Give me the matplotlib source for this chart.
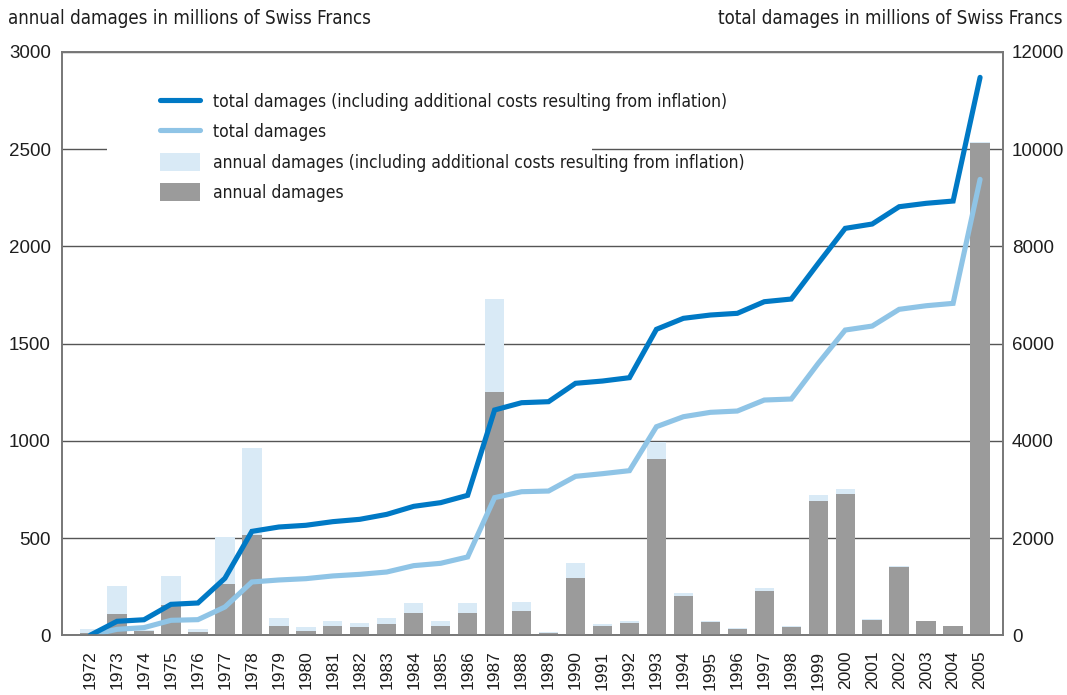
import numpy as np
import matplotlib
matplotlib.use('Agg')
import matplotlib.pyplot as plt
from matplotlib.patches import Rectangle
from matplotlib.lines import Line2D
from matplotlib.font_manager import FontProperties

years = [str(y) for y in range(1972, 2006)]

# annual damages (gray bars), millions CHF
annual = [10, 110, 22, 155, 17, 265, 514, 47, 22, 47, 41, 57, 114, 47, 114,
          1251, 124, 10, 295, 47, 62, 905, 202, 67, 31, 228, 41, 693, 729, 78,
          352, 72, 47, 2533]
# annual damages incl. inflation costs (light blue bars)
annual_infl = [30, 255, 25, 307, 31, 507, 962, 90, 41, 72, 62, 88, 166, 72, 166,
               1728, 171, 15, 372, 57, 72, 993, 217, 72, 36, 243, 47, 724, 750, 83,
               357, 74, 48, 2535]
# cumulative totals (right axis)
total = [0, 123, 158, 308, 322, 582, 1097, 1138, 1165, 1221, 1254, 1302, 1433,
         1481, 1612, 2832, 2954, 2968, 3270, 3325, 3387, 4291, 4497, 4587, 4614,
         4840, 4861, 5595, 6280, 6362, 6706, 6780, 6829, 9380]
total_infl = [0, 288, 320, 637, 665, 1173, 2138, 2228, 2263, 2338, 2386, 2488,
              2653, 2729, 2880, 4635, 4785, 4806, 5184, 5231, 5300, 6295, 6521,
              6589, 6624, 6863, 6918, 7652, 8372, 8461, 8817, 8887, 8934, 11478]

c_dark = '#0079c5'
c_light = '#8fc4e6'
c_barlight = '#d9eaf6'
c_gray = '#9b9b9b'
c_text = '#1e1e1e'

numfont = ['Liberation Sans', 'DejaVu Sans']
title_fp = FontProperties(family='DejaVu Sans', stretch='condensed', size=13.4)
legend_fp = FontProperties(family='DejaVu Sans', stretch='condensed', size=12.5)

fig = plt.figure(figsize=(10.67, 6.95), dpi=100)
ax = fig.add_axes([62/1067, 1-635.3/695, (1003-62)/1067, (635.3-52)/695])
x = np.arange(len(years))

ax.bar(x, annual_infl, width=0.72, color=c_barlight, zorder=2)
ax.bar(x, annual, width=0.72, color=c_gray, zorder=3)
ax.set_xlim(-1.04, 33.85)
ax.set_ylim(0, 3000)
ax.set_yticks([0, 500, 1000, 1500, 2000, 2500, 3000])
ax.yaxis.grid(True, color='#555555', linewidth=1.0, zorder=0)
ax.set_axisbelow(True)
ax.set_xticks(x)
ax.set_xticklabels(years, rotation=90, fontfamily=numfont, fontsize=12.5)
ax.tick_params(axis='x', length=0, pad=11, colors=c_text)
ax.tick_params(axis='y', length=0, pad=8, colors=c_text, labelsize=13.5)
for lab in ax.get_yticklabels():
    lab.set_fontfamily(numfont)
for s in ax.spines.values():
    s.set_color('#777777')
    s.set_linewidth(1.2)

# white gap in the 2500 gridline behind the legend
ax.add_patch(Rectangle((0.0481, 2470), 0.5148, 60, transform=ax.get_yaxis_transform(),
                       facecolor='white', edgecolor='none', zorder=0.8))

ax2 = ax.twinx()
ax2.set_ylim(0, 12000)
ax2.set_yticks([0, 2000, 4000, 6000, 8000, 10000, 12000])
ax2.tick_params(axis='y', length=0, pad=6.5, colors=c_text, labelsize=13.5)
for lab in ax2.get_yticklabels():
    lab.set_fontfamily(numfont)
for s in ax2.spines.values():
    s.set_color('#777777')
    s.set_linewidth(1.2)
ax2.plot(x, total, color=c_light, linewidth=3.7, solid_capstyle='round', solid_joinstyle='miter')
ax2.plot(x, total_infl, color=c_dark, linewidth=3.7, solid_capstyle='round', solid_joinstyle='miter')

handles = [Line2D([], [], color=c_dark, linewidth=3.7, solid_capstyle='round'),
           Line2D([], [], color=c_light, linewidth=3.7, solid_capstyle='round'),
           Rectangle((0, 0), 1, 1, facecolor=c_barlight),
           Rectangle((0, 0), 1, 1, facecolor=c_gray)]
labels = ['total damages (including additional costs resulting from inflation)',
          'total damages',
          'annual damages (including additional costs resulting from inflation)',
          'annual damages']
leg = ax2.legend(handles, labels, loc='upper left', bbox_to_anchor=(160/1067, 1-92.5/695),
                 bbox_transform=fig.transFigure, frameon=False, prop=legend_fp,
                 handlelength=2.3, handleheight=1.2, handletextpad=0.75, labelspacing=0.66,
                 borderaxespad=0, borderpad=0)
for t in leg.get_texts():
    t.set_color(c_text)

fig.text(8/1067, 1-18/695, 'annual damages in millions of Swiss Francs', ha='left', va='center',
         fontproperties=title_fp, color=c_text)
fig.text(1063/1067, 1-18/695, 'total damages in millions of Swiss Francs', ha='right', va='center',
         fontproperties=title_fp, color=c_text)

fig.savefig('out.png', dpi=100)
